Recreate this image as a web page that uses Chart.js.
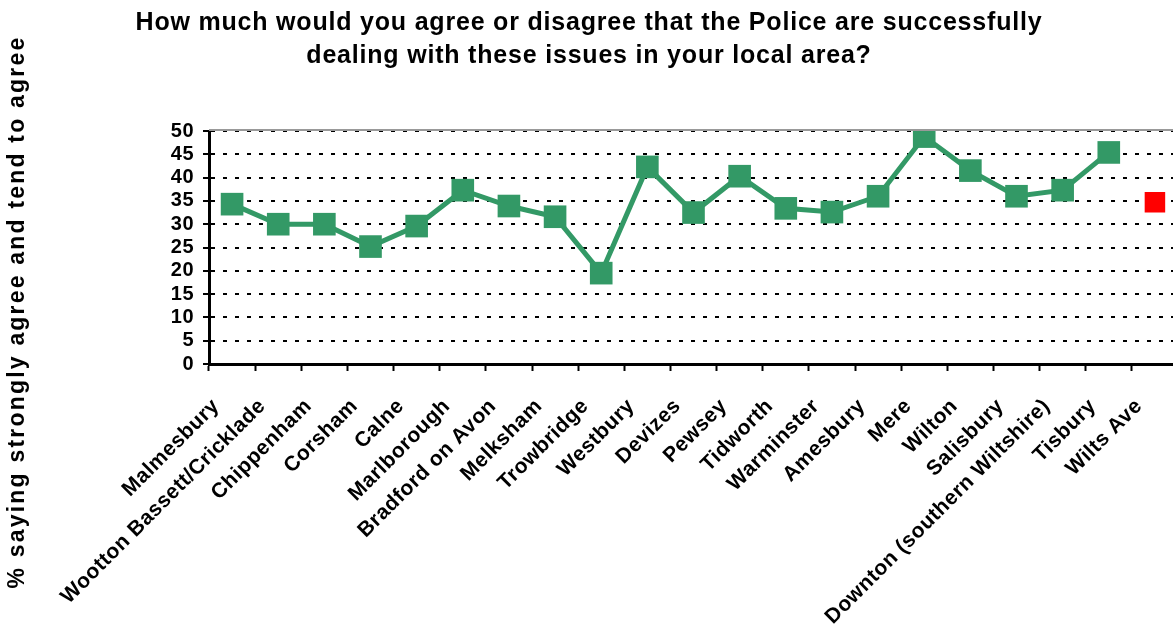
<!DOCTYPE html>
<html>
<head>
<meta charset="utf-8">
<script src="https://cdn.jsdelivr.net/npm/chart.js@4.4.0/dist/chart.umd.min.js"></script>
<style>
  html,body{margin:0;padding:0;background:#fff;overflow:hidden;}
  #wrap{width:1173px;height:629px;overflow:hidden;}
</style>
</head>
<body>
<div id="wrap"><canvas id="chart" width="1194" height="629"></canvas></div>
<script>
// police confidence chart — Wiltshire towns
const towns = ["Malmesbury","Wootton Bassett/Cricklade","Chippenham","Corsham","Calne","Marlborough",
  "Bradford on Avon","Melksham","Trowbridge","Westbury","Devizes","Pewsey","Tidworth","Warminster",
  "Amesbury","Mere","Wilton","Salisbury","Downton (southern Wiltshire)","Tisbury","Wilts Ave"];
const agreePct = [34.3,30.0,30.0,25.2,29.6,37.3,33.9,31.6,19.5,42.3,32.5,40.3,33.4,32.6,36.0,48.8,41.5,36.0,37.3,45.4];
const wiltsAve = 34.7;
const yTicks = [0,5,10,15,20,25,30,35,40,45,50];

const titleLines = ["How much would you agree or disagree that the Police are successfully",
  "dealing with these issues in your local area?"];
const yTitle = "% saying strongly agree and tend to agree";
const FONT = "'Liberation Sans', Arial, sans-serif";

const greenData = towns.map((t,i)=> i<agreePct.length ? agreePct[i] : null);
const redData = towns.map((t,i)=> t==="Wilts Ave" ? wiltsAve : null);

const textPlugin = {
  id:"texts",
  beforeUpdate(c){ c.ctx.letterSpacing = "0.5px"; },
  beforeDraw(c){ c.ctx.letterSpacing = "0.5px"; },
  beforeDatasetsDraw(c){
    const {ctx, chartArea:a} = c;
    ctx.save();
    ctx.strokeStyle = "#999"; ctx.lineWidth = 2;
    ctx.beginPath(); ctx.moveTo(a.left, a.top-1); ctx.lineTo(a.right, a.top-1); ctx.stroke();
    ctx.restore();
  },
  afterDraw(c){
    const ctx = c.ctx;
    ctx.save();
    ctx.fillStyle = "#000";
    ctx.textAlign = "center"; ctx.textBaseline = "middle";
    ctx.font = "bold 25px " + FONT;
    ctx.letterSpacing = "0.8px";
    titleLines.forEach((l,i)=> ctx.fillText(l, 589, 23 + i*33));
    ctx.translate(18, 312); ctx.rotate(-Math.PI/2);
    ctx.font = "bold 23px " + FONT;
    ctx.letterSpacing = "2.2px";
    ctx.fillText(yTitle, 0, 0);
    ctx.restore();
  }
};

new Chart(document.getElementById("chart"), {
  type:"line",
  data:{
    labels: towns,
    datasets:[
      {data:greenData, borderColor:"#339966", backgroundColor:"#339966", borderWidth:5,
        pointStyle:"rect", pointRadius:16, pointHoverRadius:16, pointBorderWidth:0, tension:0, spanGaps:false},
      {data:redData, borderColor:"#ff0000", backgroundColor:"#ff0000", showLine:false,
        pointStyle:"rect", pointRadius:14.5, pointHoverRadius:14.5, pointBorderWidth:0}
    ]
  },
  options:{
    responsive:false, animation:false,
    layout:{padding:{top:131, right:3, left:0, bottom:0}},
    plugins:{legend:{display:false}, title:{display:false}, tooltip:{enabled:false}},
    scales:{
      x:{
        offset:true,
        grid:{offset:true, drawOnChartArea:false, drawTicks:true, tickLength:7, tickColor:"#000", tickWidth:2},
        border:{color:"#000", width:3},
        ticks:{autoSkip:false, minRotation:45, maxRotation:45, color:"#000", padding:23, labelOffset:-16,
          font:{family:FONT, size:21, weight:"bold"}},
        afterFit(s){ s.height = 265; s.paddingLeft = 0; s.paddingRight = 0; }
      },
      y:{
        min:0, max:50,
        afterBuildTicks(s){ s.ticks = yTicks.map(v=>({value:v})); },
        grid:{color:"#000", lineWidth:2, borderDash:[4,8], tickLength:6, tickColor:"#000", tickWidth:2, tickBorderDash:[]},
        border:{color:"#000", width:3, dash:[4,8]},
        ticks:{color:"#000", padding:9, autoSkip:false, stepSize:5, font:{family:FONT, size:20, weight:"bold"}},
        afterFit(s){ s.width = 209; }
      }
    }
  },
  plugins:[textPlugin]
});
</script>
</body>
</html>
